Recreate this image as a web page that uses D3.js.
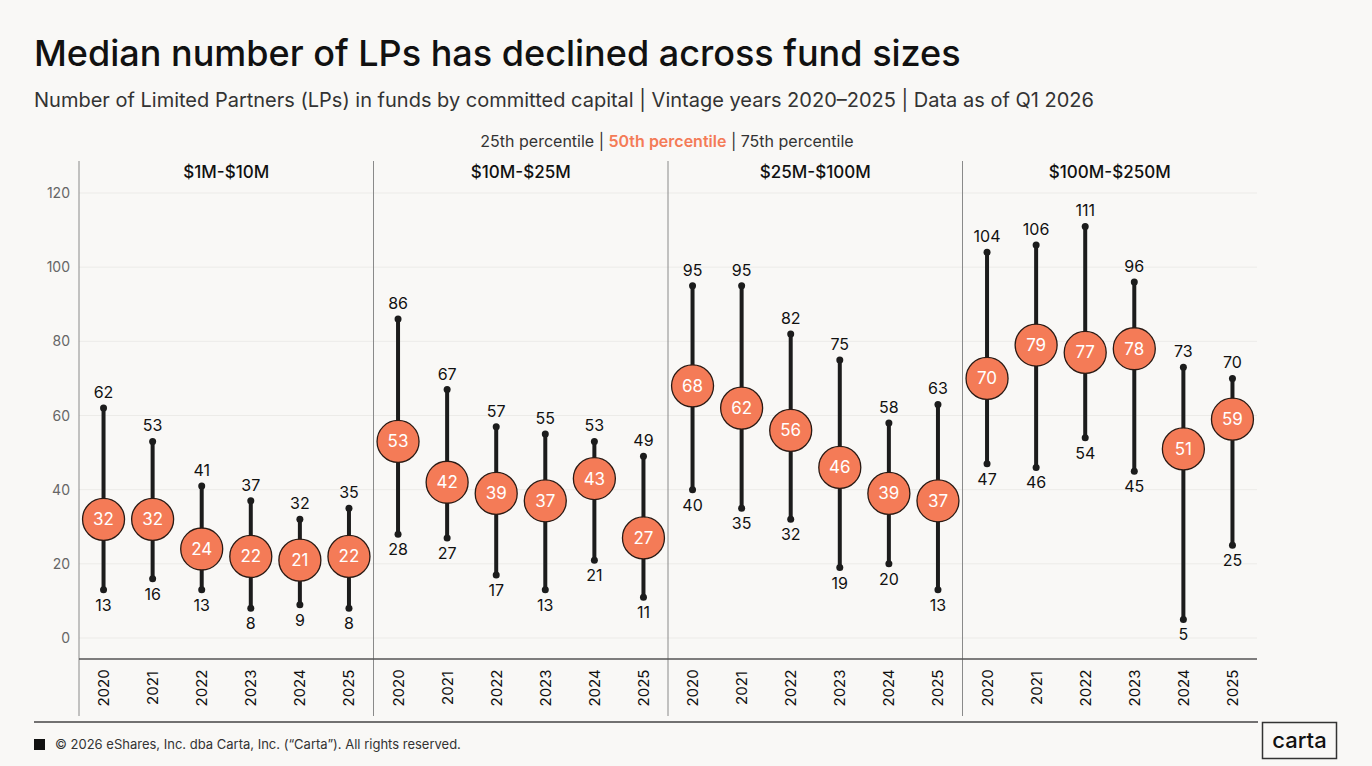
<!DOCTYPE html>
<html><head><meta charset="utf-8">
<script src="https://cdn.jsdelivr.net/npm/d3@7"></script>
<style>
html,body{margin:0;padding:0;background:#f9f8f6;}
svg{display:block;font-family:Inter,"Noto Sans",sans-serif;}
</style></head><body>
<svg id="c" width="1372" height="766"></svg>
<script>
const panels = ["$1M-$10M","$10M-$25M","$25M-$100M","$100M-$250M"];
const years = ["2020","2021","2022","2023","2024","2025"];
const p25 = [[13,16,13,8,9,8],[28,27,17,13,21,11],[40,35,32,19,20,13],[47,46,54,45,5,25]];
const p50 = [[32,32,24,22,21,22],[53,42,39,37,43,27],[68,62,56,46,39,37],[70,79,77,78,51,59]];
const p75 = [[62,53,41,37,32,35],[86,67,57,55,53,49],[95,95,82,75,58,63],[104,106,111,96,73,70]];
const yTicks = [0,20,40,60,80,100,120];

const svg = d3.select("#c");
const L = 79, R = 1257, plotTop = 193, plotBot = 638;
const y = d3.scaleLinear().domain([0,120]).range([plotBot, plotTop]);
const px = d3.scaleBand().domain(panels).range([L, R]);
const ink = "#1c1c1c", coral = "#f47b57";

svg.append("rect").attr("width",1372).attr("height",766).attr("fill","#f9f8f6");

svg.append("text").attr("x",34).attr("y",66).attr("font-size",36).attr("font-weight",500)
  .attr("fill","#111").text("Median number of LPs has declined across fund sizes");
svg.append("text").attr("x",34).attr("y",107).attr("font-size",20).attr("fill","#333")
  .text("Number of Limited Partners (LPs) in funds by committed capital | Vintage years 2020–2025 | Data as of Q1 2026");

const lg = svg.append("text").attr("x",667).attr("y",147).attr("font-size",16).attr("text-anchor","middle").attr("fill","#333");
lg.append("tspan").text("25th percentile  |  ");
lg.append("tspan").attr("fill",coral).attr("font-weight",600).text("50th percentile");
lg.append("tspan").text("  |  75th percentile");

// gridlines
svg.append("g").selectAll("line").data(yTicks).join("line")
  .attr("x1",L).attr("x2",R).attr("y1",d=>y(d)).attr("y2",d=>y(d))
  .attr("stroke","#ecebe8").attr("stroke-width",1);
// y labels
svg.append("g").selectAll("text").data(yTicks).join("text")
  .attr("x",70).attr("y",d=>y(d)+5).attr("text-anchor","end").attr("font-size",14).attr("fill","#666").text(d=>d);

// panel separators
const seps = panels.map(p=>px(p));
svg.append("g").selectAll("line").data(seps).join("line")
  .attr("x1",d=>d).attr("x2",d=>d).attr("y1",161).attr("y2",716)
  .attr("stroke","#8a8a8a").attr("stroke-width",1);
// x axis line
svg.append("line").attr("x1",L).attr("x2",R).attr("y1",659).attr("y2",659).attr("stroke","#555").attr("stroke-width",1.5);

panels.forEach((p,pi)=>{
  const g = svg.append("g");
  const xb = d3.scaleBand().domain(years).range([px(p), px(p)+px.bandwidth()]);
  g.append("text").attr("x",px(p)+px.bandwidth()/2).attr("y",178).attr("text-anchor","middle")
    .attr("font-size",17).attr("font-weight",500).attr("fill","#111").text(p);
  const rows = years.map((yr,i)=>({yr, lo:p25[pi][i], md:p50[pi][i], hi:p75[pi][i], cx: xb(yr)+xb.bandwidth()/2}));
  g.selectAll(".w").data(rows).join("line").attr("x1",d=>d.cx).attr("x2",d=>d.cx)
    .attr("y1",d=>y(d.lo)).attr("y2",d=>y(d.hi)).attr("stroke",ink).attr("stroke-width",4);
  g.selectAll(".dl").data(rows).join("circle").attr("cx",d=>d.cx).attr("cy",d=>y(d.lo)).attr("r",3.5).attr("fill",ink);
  g.selectAll(".dh").data(rows).join("circle").attr("cx",d=>d.cx).attr("cy",d=>y(d.hi)).attr("r",3.5).attr("fill",ink);
  g.selectAll(".th").data(rows).join("text").attr("x",d=>d.cx).attr("y",d=>y(d.hi)-10)
    .attr("text-anchor","middle").attr("font-size",16).attr("fill","#111").text(d=>d.hi);
  g.selectAll(".tl").data(rows).join("text").attr("x",d=>d.cx).attr("y",d=>y(d.lo)+21)
    .attr("text-anchor","middle").attr("font-size",16).attr("fill","#111").text(d=>d.lo);
  g.selectAll(".m").data(rows).join("circle").attr("cx",d=>d.cx).attr("cy",d=>y(d.md)).attr("r",21)
    .attr("fill",coral).attr("stroke","#2a1a14").attr("stroke-width",1.3);
  g.selectAll(".mt").data(rows).join("text").attr("x",d=>d.cx).attr("y",d=>y(d.md)+6)
    .attr("text-anchor","middle").attr("font-size",17).attr("fill","#fff").text(d=>d.md);
  g.selectAll(".yr").data(rows).join("text")
    .attr("transform",d=>`translate(${d.cx+5.5},688) rotate(-90)`)
    .attr("text-anchor","middle").attr("font-size",15).attr("fill","#111").text(d=>d.yr);
});

// footer
svg.append("line").attr("x1",34).attr("x2",1258).attr("y1",722).attr("y2",722).attr("stroke","#444").attr("stroke-width",1.5);
svg.append("rect").attr("x",34).attr("y",739).attr("width",11).attr("height",11).attr("fill","#111");
svg.append("text").attr("x",55).attr("y",749).attr("font-size",13).attr("fill","#333")
  .text("© 2026 eShares, Inc. dba Carta, Inc. (“Carta”). All rights reserved.");
svg.append("rect").attr("x",1262.5).attr("y",722.5).attr("width",74).attr("height",36).attr("fill","none").attr("stroke","#333").attr("stroke-width",1.5);
svg.append("text").attr("x",1299.5).attr("y",748).attr("text-anchor","middle").attr("font-size",22).attr("font-weight",500).attr("fill","#111").text("carta");
</script></body></html>
